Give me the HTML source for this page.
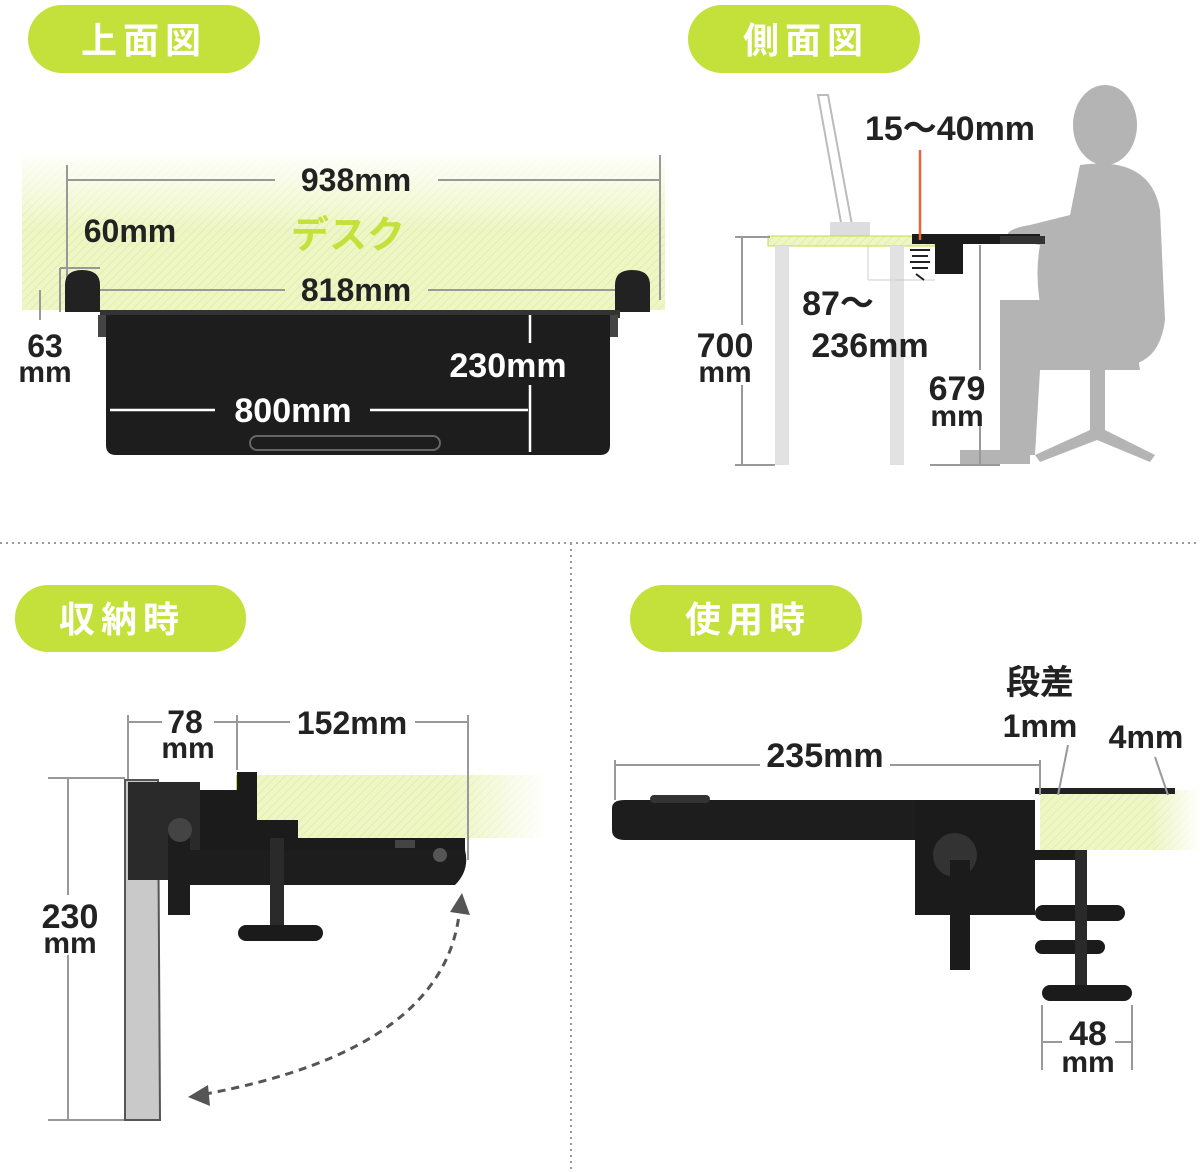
<!DOCTYPE html>
<html><head><meta charset="utf-8"><style>
html,body{margin:0;padding:0;background:#fff;width:1200px;height:1172px;overflow:hidden}
svg text{font-family:"Liberation Sans","Noto Sans CJK JP",sans-serif;font-weight:bold}
</style></head><body>
<svg width="1200" height="1172" viewBox="0 0 1200 1172" xmlns="http://www.w3.org/2000/svg">
<defs>
<pattern id="h" width="6" height="6" patternUnits="userSpaceOnUse" patternTransform="rotate(45)">
<rect width="6" height="6" fill="#eef6c6"/><line x1="0" y1="0" x2="0" y2="6" stroke="#dcecA0" stroke-width="1.5"/></pattern>
<linearGradient id="fadeR" x1="0" x2="1"><stop offset="0.7" stop-color="#fff" stop-opacity="0"/><stop offset="1" stop-color="#fff" stop-opacity="1"/></linearGradient>
<linearGradient id="fadeT" x1="0" y1="0" x2="0" y2="1"><stop offset="0" stop-color="#fff" stop-opacity="1"/><stop offset="0.5" stop-color="#fff" stop-opacity="0"/></linearGradient>
</defs>

<!-- separators -->
<line x1="0" y1="543" x2="1200" y2="543" stroke="#999" stroke-width="2" stroke-dasharray="2,4"/>
<line x1="571" y1="543" x2="571" y2="1172" stroke="#999" stroke-width="2" stroke-dasharray="2,4"/>

<!-- pills -->
<rect x="28" y="5" width="232" height="68" rx="34" fill="#c4e03a"/>
<text x="144" y="53" font-size="36" fill="#fff" text-anchor="middle" letter-spacing="6">上面図</text>
<rect x="688" y="5" width="232" height="68" rx="34" fill="#c4e03a"/>
<text x="806" y="53" font-size="36" fill="#fff" text-anchor="middle" letter-spacing="6">側面図</text>
<rect x="15" y="585" width="231" height="67" rx="33" fill="#c4e03a"/>
<text x="122" y="632" font-size="36" fill="#fff" text-anchor="middle" letter-spacing="6">収納時</text>
<rect x="630" y="585" width="232" height="67" rx="33" fill="#c4e03a"/>
<text x="748" y="632" font-size="36" fill="#fff" text-anchor="middle" letter-spacing="6">使用時</text>

<!-- TOP LEFT -->
<rect x="22" y="150" width="643" height="160" fill="url(#h)"/>
<rect x="22" y="150" width="643" height="160" fill="url(#fadeT)"/>
<g stroke="#999" stroke-width="2">
<line x1="67" y1="165" x2="67" y2="290"/><line x1="660" y1="155" x2="660" y2="300"/>
<line x1="67" y1="180" x2="275" y2="180"/><line x1="438" y1="180" x2="660" y2="180"/>
<line x1="100" y1="290" x2="285" y2="290"/><line x1="428" y1="290" x2="620" y2="290"/>
<line x1="40" y1="290" x2="40" y2="320"/><line x1="60" y1="268" x2="100" y2="268"/><line x1="60" y1="268" x2="60" y2="312"/>
</g>
<text x="356" y="191" font-size="32" fill="#222" text-anchor="middle">938mm</text>
<text x="130" y="242" font-size="32" fill="#222" text-anchor="middle">60mm</text>
<text x="348" y="248" font-size="38" fill="#c4e03a" text-anchor="middle">デスク</text>
<text x="356" y="301" font-size="32" fill="#222" text-anchor="middle">818mm</text>
<text x="45" y="357" font-size="32" fill="#222" text-anchor="middle">63</text>
<text x="45" y="382" font-size="30" fill="#222" text-anchor="middle">mm</text>
<path d="M65 312 V285 Q65 270 82 270 Q100 270 100 285 V312 Z" fill="#222"/>
<path d="M615 312 V285 Q615 270 632 270 Q650 270 650 285 V312 Z" fill="#222"/>
<rect x="100" y="310" width="520" height="8" fill="#333"/>
<path d="M106 315 H610 V445 Q610 455 600 455 H116 Q106 455 106 445 Z" fill="#1d1d1d"/>
<rect x="98" y="315" width="8" height="22" fill="#444"/><rect x="610" y="315" width="8" height="22" fill="#444"/>
<rect x="250" y="436" width="190" height="14" rx="7" fill="none" stroke="#666" stroke-width="2"/>
<g stroke="#fff" stroke-width="2.5">
<line x1="530" y1="315" x2="530" y2="343"/><line x1="530" y1="385" x2="530" y2="452"/>
<line x1="110" y1="410" x2="215" y2="410"/><line x1="370" y1="410" x2="528" y2="410"/>
</g>
<text x="508" y="377" font-size="34" fill="#fff" text-anchor="middle">230mm</text>
<text x="293" y="422" font-size="34" fill="#fff" text-anchor="middle">800mm</text>

<!-- TOP RIGHT -->
<path d="M818 95 L828 95 L852 225 L842 228 Z" fill="none" stroke="#bbb" stroke-width="2"/>
<rect x="830" y="222" width="40" height="14" fill="#ddd"/>
<g fill="#b4b4b4">
<ellipse cx="1105" cy="125" rx="32" ry="40"/>
<path d="M1080 165 Q1150 155 1160 210 L1165 320 Q1160 360 1130 365 L1060 370 Q1030 300 1040 245 L1010 240 Q1000 230 1030 225 L1070 215 Z"/>
<path d="M1000 300 L1130 300 L1140 370 L1040 370 L1035 455 L1000 455 Z"/>
<rect x="960" y="450" width="70" height="14"/>
<path d="M1090 370 L1105 370 L1105 430 L1155 455 L1150 462 L1097 440 L1040 462 L1035 455 L1090 430 Z"/>
</g>
<rect x="768" y="236" width="167" height="10" fill="url(#h)"/>
<rect x="768" y="236" width="167" height="10" fill="none" stroke="#c4e03a"/>
<rect x="775" y="246" width="14" height="219" fill="#e2e2e2"/>
<rect x="890" y="246" width="14" height="219" fill="#e2e2e2"/>
<line x1="868" y1="246" x2="868" y2="280" stroke="#ccc"/><line x1="868" y1="280" x2="935" y2="280" stroke="#ccc"/>
<rect x="912" y="234" width="128" height="10" fill="#1b1b1b"/>
<rect x="935" y="244" width="28" height="30" fill="#1b1b1b"/>
<path d="M910 250 L930 250 M912 256 L928 256 M910 262 L930 262 M912 268 L928 268 M916 274 L924 280" stroke="#222" stroke-width="2"/>
<rect x="1000" y="236" width="45" height="8" fill="#333"/>
<line x1="920" y1="150" x2="920" y2="240" stroke="#e8643c" stroke-width="2.5"/>
<text x="950" y="140" font-size="34" fill="#222" text-anchor="middle">15〜40mm</text>
<g stroke="#999" stroke-width="2">
<line x1="735" y1="237" x2="770" y2="237"/><line x1="735" y1="465" x2="775" y2="465"/>
<line x1="742" y1="237" x2="742" y2="325"/><line x1="742" y1="385" x2="742" y2="465"/>
<line x1="980" y1="245" x2="980" y2="370"/><line x1="980" y1="425" x2="980" y2="465"/>
<line x1="930" y1="465" x2="1000" y2="465"/>
</g>
<text x="725" y="357" font-size="34" fill="#222" text-anchor="middle">700</text>
<text x="725" y="382" font-size="30" fill="#222" text-anchor="middle">mm</text>
<text x="838" y="315" font-size="34" fill="#222" text-anchor="middle">87～</text>
<text x="870" y="357" font-size="34" fill="#222" text-anchor="middle">236mm</text>
<text x="957" y="400" font-size="34" fill="#222" text-anchor="middle">679</text>
<text x="957" y="426" font-size="30" fill="#222" text-anchor="middle">mm</text>

<!-- BOTTOM LEFT -->
<rect x="237" y="775" width="310" height="63" fill="url(#h)"/>
<rect x="237" y="775" width="310" height="63" fill="url(#fadeR)"/>
<line x1="237" y1="775" x2="237" y2="838" stroke="#c4e03a" stroke-width="2"/>
<g stroke="#999" stroke-width="2">
<line x1="128" y1="715" x2="128" y2="780"/><line x1="237" y1="715" x2="237" y2="770"/><line x1="468" y1="715" x2="468" y2="860"/>
<line x1="128" y1="722" x2="162" y2="722"/><line x1="214" y1="722" x2="290" y2="722"/><line x1="415" y1="722" x2="468" y2="722"/>
<line x1="48" y1="778" x2="125" y2="778"/><line x1="48" y1="1120" x2="125" y2="1120"/>
<line x1="68" y1="778" x2="68" y2="895"/><line x1="68" y1="955" x2="68" y2="1120"/>
</g>
<text x="185" y="733" font-size="32" fill="#222" text-anchor="middle">78</text>
<text x="188" y="758" font-size="30" fill="#222" text-anchor="middle">mm</text>
<text x="352" y="734" font-size="32" fill="#222" text-anchor="middle">152mm</text>
<text x="70" y="928" font-size="34" fill="#222" text-anchor="middle">230</text>
<text x="70" y="953" font-size="30" fill="#222" text-anchor="middle">mm</text>
<path d="M125 780 L158 780 L160 1120 L125 1120 Z" fill="#c9c9c9" stroke="#555" stroke-width="2"/>
<path d="M128 782 L200 782 L200 880 L128 880 Z" fill="#2a2a2a"/>
<rect x="200" y="790" width="40" height="80" fill="#1b1b1b"/>
<rect x="237" y="772" width="20" height="70" fill="#1b1b1b"/>
<rect x="237" y="838" width="228" height="12" fill="#1b1b1b"/>
<path d="M190 850 H465 Q470 870 455 885 H190 Z" fill="#1d1d1d"/>
<circle cx="440" cy="855" r="7" fill="#555"/><rect x="395" y="840" width="20" height="8" fill="#444"/>
<rect x="270" y="838" width="14" height="90" fill="#2a2a2a"/>
<rect x="248" y="820" width="50" height="18" fill="#1b1b1b"/>
<rect x="238" y="925" width="85" height="16" rx="8" fill="#1b1b1b"/>
<rect x="168" y="830" width="22" height="85" fill="#1d1d1d"/>
<circle cx="180" cy="830" r="12" fill="#444"/>
<path d="M460 905 Q450 1050 200 1095" fill="none" stroke="#555" stroke-width="3" stroke-dasharray="8,6"/>
<path d="M450 912 L462 893 L470 915 Z" fill="#555"/>
<path d="M208 1085 L188 1097 L210 1106 Z" fill="#555"/>

<!-- BOTTOM RIGHT -->
<rect x="1040" y="790" width="160" height="60" fill="url(#h)"/>
<rect x="1040" y="790" width="160" height="60" fill="url(#fadeR)"/>
<rect x="1035" y="788" width="140" height="6" fill="#222"/>
<text x="1040" y="694" font-size="34" fill="#222" text-anchor="middle">段差</text>
<text x="1040" y="737" font-size="32" fill="#222" text-anchor="middle">1mm</text>
<text x="1146" y="748" font-size="32" fill="#222" text-anchor="middle">4mm</text>
<g stroke="#999" stroke-width="2">
<line x1="615" y1="760" x2="615" y2="800"/><line x1="1040" y1="760" x2="1040" y2="795"/>
<line x1="615" y1="765" x2="760" y2="765"/><line x1="890" y1="765" x2="1040" y2="765"/>
<line x1="1068" y1="745" x2="1058" y2="795"/><line x1="1155" y1="757" x2="1168" y2="795"/>
<line x1="1042" y1="1005" x2="1042" y2="1070"/><line x1="1132" y1="1005" x2="1132" y2="1070"/>
<line x1="1042" y1="1042" x2="1062" y2="1042"/><line x1="1115" y1="1042" x2="1132" y2="1042"/>
</g>
<text x="825" y="767" font-size="34" fill="#222" text-anchor="middle">235mm</text>
<text x="1088" y="1045" font-size="34" fill="#222" text-anchor="middle">48</text>
<text x="1088" y="1072" font-size="30" fill="#222" text-anchor="middle">mm</text>
<path d="M612 808 Q612 800 625 800 H1035 V840 H625 Q612 840 612 830 Z" fill="#1d1d1d"/>
<rect x="650" y="795" width="60" height="8" rx="4" fill="#333"/>
<rect x="915" y="800" width="120" height="115" fill="#1b1b1b"/>
<circle cx="955" cy="855" r="22" fill="#333"/>
<rect x="950" y="860" width="20" height="110" fill="#1b1b1b"/>
<rect x="1035" y="850" width="40" height="10" fill="#1b1b1b"/>
<rect x="1035" y="905" width="90" height="16" rx="8" fill="#1b1b1b"/>
<rect x="1035" y="940" width="70" height="14" rx="7" fill="#1b1b1b"/>
<rect x="1075" y="850" width="12" height="140" fill="#2a2a2a"/>
<rect x="1042" y="985" width="90" height="16" rx="8" fill="#1b1b1b"/>
</svg>
</body></html>
